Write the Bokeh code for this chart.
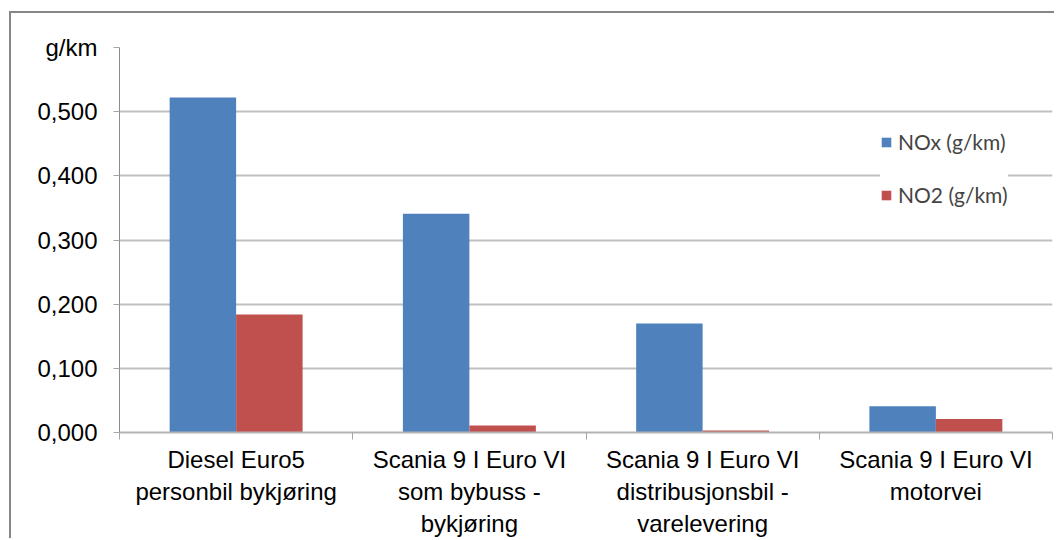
from bokeh.plotting import figure
from bokeh.models import (ColumnDataSource, Range1d, FixedTicker, CustomJSTickFormatter,
                          Legend, LegendItem)
from bokeh.transform import dodge
from bokeh.embed import file_html
from bokeh.resources import INLINE

# Emission factors per vehicle / driving pattern
categories = [
    "Diesel Euro5\npersonbil bykjøring",
    "Scania 9 I Euro VI\nsom bybuss -\nbykjøring",
    "Scania 9 I Euro VI\ndistribusjonsbil -\nvarelevering",
    "Scania 9 I Euro VI\nmotorvei",
]
nox_g_km = [0.522, 0.341, 0.170, 0.041]
no2_g_km = [0.184, 0.011, 0.003, 0.021]
y_ticks = [0.0, 0.1, 0.2, 0.3, 0.4, 0.5, 0.6]
series_names = ["NOx (g/km)", "NO2 (g/km)"]

BLUE = "#4F81BD"
RED = "#C0504D"
BAR_W = 0.285

positions = [i + 0.5 for i in range(len(categories))]
source = ColumnDataSource(dict(pos=positions, nox=nox_g_km, no2=no2_g_km))

p = figure(width=1045, height=527, output_backend="svg", toolbar_location=None,
           x_range=Range1d(0, len(categories)), y_range=Range1d(0, 0.6),
           min_border_left=108, min_border_right=4, min_border_top=34, min_border_bottom=100)
p.styles = {"margin-top": "11px", "margin-left": "9px",
            "border-left": "2px solid #868686", "border-top": "2px solid #868686"}
p.outline_line_color = None
p.background_fill_color = "white"
p.border_fill_color = "white"

r_nox = p.vbar(x=dodge("pos", -BAR_W / 2, range=p.x_range), top="nox", width=BAR_W,
               source=source, fill_color=BLUE, line_color=None)
r_no2 = p.vbar(x=dodge("pos", BAR_W / 2, range=p.x_range), top="no2", width=BAR_W,
               source=source, fill_color=RED, line_color=None)

# Category axis: labels at group centres, tick marks between groups
xa = p.xaxis[0]
xa.ticker = FixedTicker(ticks=positions, minor_ticks=list(range(len(categories) + 1)))
xa.major_label_overrides = {pos: lab for pos, lab in zip(positions, categories)}
xa.major_tick_out = 0
xa.major_tick_in = 0
xa.minor_tick_out = 7
xa.minor_tick_in = 0
xa.minor_tick_line_color = "#a6a6a6"
xa.axis_line_color = "#b3b3b3"
xa.axis_line_width = 2
xa.major_label_text_font = "Liberation Sans"
xa.major_label_text_font_size = "24px"
xa.major_label_text_color = "black"
xa.major_label_text_line_height = 1.2
xa.major_label_standoff = 6

ya = p.yaxis[0]
ya.ticker = FixedTicker(ticks=y_ticks)
ya.formatter = CustomJSTickFormatter(
    code="return tick > 0.55 ? 'g/km' : tick.toFixed(3).replace('.', ',');")
ya.major_tick_out = 6
ya.major_tick_in = 0
ya.minor_tick_line_color = None
ya.major_tick_line_color = "#a6a6a6"
ya.axis_line_color = "#8c8c8c"
ya.major_label_text_font = "Liberation Sans"
ya.major_label_text_font_size = "24px"
ya.major_label_text_color = "black"
ya.major_label_standoff = 16

p.xgrid.grid_line_color = None
p.ygrid.ticker = FixedTicker(ticks=y_ticks)
p.ygrid.grid_line_color = "#bfbfbf"
p.ygrid.grid_line_width = 2

legend = Legend(items=[LegendItem(label=series_names[0], renderers=[r_nox]),
                       LegendItem(label=series_names[1], renderers=[r_no2])],
                location=(761, 225), orientation="vertical",
                glyph_width=12, glyph_height=12, label_height=24, spacing=28,
                padding=11, margin=0, label_standoff=6,
                label_text_font="Lato", label_text_font_size="21px",
                background_fill_color="white", background_fill_alpha=1.0,
                border_line_color=None)
p.add_layout(legend, "center")

open("out.html", "w").write(file_html(p, INLINE))
